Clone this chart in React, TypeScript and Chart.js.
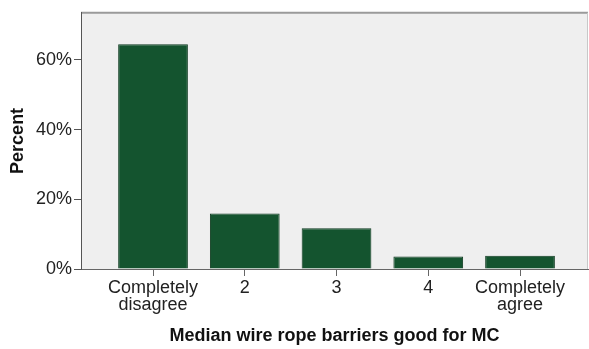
import React, { useEffect, useRef } from "react";
import { Chart, registerables } from "chart.js";

Chart.register(...registerables);

const categories: (string | string[])[] = [
  ["Completely", "disagree"],
  "2",
  "3",
  "4",
  ["Completely", "agree"],
];
const percentValues = [64.5, 15.9, 11.7, 3.6, 3.8];
const yTicks = [0, 20, 40, 60];

const plotBg = {
  id: "plotBg",
  beforeDraw(chart: any) {
    const { ctx, chartArea } = chart;
    if (!chartArea) return;
    ctx.save();
    ctx.fillStyle = "#efefef";
    ctx.fillRect(chartArea.left, chartArea.top, chartArea.right - chartArea.left, chartArea.bottom - chartArea.top);
    ctx.strokeStyle = "#9a9a9a";
    ctx.lineWidth = 2;
    ctx.beginPath();
    ctx.moveTo(chartArea.left, chartArea.top);
    ctx.lineTo(chartArea.right, chartArea.top);
    ctx.stroke();
    ctx.lineWidth = 1;
    ctx.strokeStyle = "#c8c8c8";
    ctx.beginPath();
    ctx.moveTo(chartArea.right - 0.5, chartArea.top);
    ctx.lineTo(chartArea.right - 0.5, chartArea.bottom);
    ctx.stroke();
    ctx.restore();
  },
};

export default function App() {
  const ref = useRef<HTMLCanvasElement>(null);
  useEffect(() => {
    if (!ref.current) return;
    const chart = new Chart(ref.current, {
      type: "bar",
      data: {
        datasets: [
          {
            data: percentValues.map((v, i) => ({ x: i, y: v })),
            backgroundColor: "#14542f",
            borderColor: "#0e3a20",
            borderWidth: 1,
            barPercentage: 0.95,
            categoryPercentage: 0.8,
          },
        ],
      },
      plugins: [plotBg],
      options: {
        animation: false,
        responsive: false,
        maintainAspectRatio: false,
        layout: { padding: { top: 9, right: 1, left: 0, bottom: 0 } },
        plugins: { legend: { display: false }, tooltip: { enabled: false } },
        scales: {
          x: {
            type: "linear",
            offset: false,
            min: -0.785,
            max: 4.741,
            afterBuildTicks: (scale: any) => {
              scale.ticks = categories.map((_, i) => ({ value: i }));
            },
            afterFit: (scale: any) => {
              scale.height = 80;
            },
            ticks: {
              autoSkip: false,
              maxRotation: 0,
              padding: 3,
              color: "#222",
              font: { family: "Arial, 'Liberation Sans', sans-serif", size: 18, lineHeight: 0.95 },
              callback: (v: any) => categories[Math.round(Number(v))] as any,
            },
            grid: { offset: false, drawOnChartArea: false, drawTicks: true, tickLength: 7, color: "#666" },
            border: { display: true, color: "#666", width: 1 },
            title: {
              display: true,
              text: "Median wire rope barriers good for MC",
              color: "#111",
              font: { family: "Arial, 'Liberation Sans', sans-serif", size: 18, weight: "bold", lineHeight: 1.2 },
              padding: { top: 0, bottom: 2 },
            },
          },
          y: {
            min: 0,
            max: 73.55,
            afterBuildTicks: (scale: any) => {
              scale.ticks = yTicks.map((v) => ({ value: v }));
            },
            afterFit: (scale: any) => {
              scale.width = 81;
            },
            ticks: {
              padding: 2,
              color: "#222",
              font: { family: "Arial, 'Liberation Sans', sans-serif", size: 18 },
              callback: (v: any) => `${v}%`,
            },
            grid: { drawOnChartArea: false, drawTicks: true, tickLength: 7, color: "#555" },
            border: { display: true, color: "#555", width: 1 },
            title: {
              display: true,
              text: "Percent",
              color: "#111",
              font: { family: "Arial, 'Liberation Sans', sans-serif", size: 18, weight: "bold", lineHeight: 1.2 },
              padding: { top: 7, bottom: 0 },
            },
          },
        },
      } as any,
    });
    return () => chart.destroy();
  }, []);
  return (
    <div style={{ position: "fixed", left: 0, top: 0, width: 589, height: 349, background: "#fff" }}>
      <canvas ref={ref} width={589} height={349} style={{ width: 589, height: 349, display: "block" }} />
    </div>
  );
}
